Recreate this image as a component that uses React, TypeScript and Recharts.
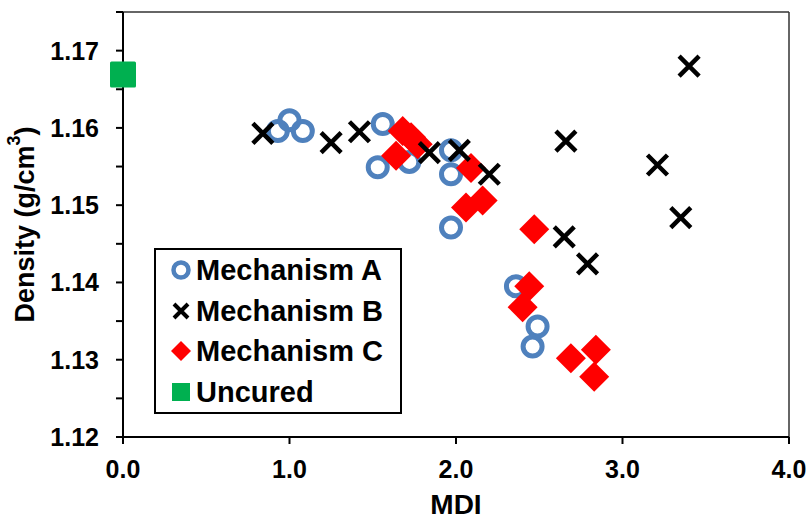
import {
  Legend,
  ReferenceLine,
  Scatter,
  ScatterChart,
  XAxis,
  YAxis
} from "recharts";

type Pt = { x: number; y: number };

const mechanismA: Pt[] = [
  { x: 0.93, y: 1.1596 },
  { x: 1.0, y: 1.161 },
  { x: 1.08, y: 1.1596 },
  { x: 1.56, y: 1.1605 },
  { x: 1.53, y: 1.1549 },
  { x: 1.72, y: 1.1556 },
  { x: 1.97, y: 1.1571 },
  { x: 1.97, y: 1.154 },
  { x: 1.97, y: 1.1471 },
  { x: 2.36, y: 1.1395 },
  { x: 2.49, y: 1.1343 },
  { x: 2.46, y: 1.1317 }
];

const mechanismB: Pt[] = [
  { x: 0.84, y: 1.1593 },
  { x: 1.25, y: 1.1581 },
  { x: 1.42, y: 1.1595 },
  { x: 1.84, y: 1.1568 },
  { x: 2.02, y: 1.1571 },
  { x: 2.2, y: 1.154 },
  { x: 2.66, y: 1.1583 },
  { x: 2.65, y: 1.1459 },
  { x: 2.79, y: 1.1424 },
  { x: 3.21, y: 1.1552 },
  { x: 3.35, y: 1.1484 },
  { x: 3.4, y: 1.168 }
];

const mechanismC: Pt[] = [
  { x: 1.68, y: 1.1596 },
  { x: 1.73, y: 1.1588 },
  { x: 1.77, y: 1.1579 },
  { x: 1.64, y: 1.1564 },
  { x: 2.09, y: 1.1548 },
  { x: 2.06, y: 1.1497 },
  { x: 2.16, y: 1.1506 },
  { x: 2.47, y: 1.1469 },
  { x: 2.44, y: 1.1395 },
  { x: 2.4, y: 1.1368 },
  { x: 2.69, y: 1.1302 },
  { x: 2.84, y: 1.1313 },
  { x: 2.83, y: 1.1278 }
];

const uncured: Pt[] = [{ x: 0, y: 1.1669 }];

const xTicks = [0, 1, 2, 3, 4];
const yTicks = [1.12, 1.125, 1.13, 1.135, 1.14, 1.145, 1.15, 1.155, 1.16, 1.165, 1.17, 1.175];

const BLUE = "#4F81BD";
const RED = "#FF0000";
const GREEN = "#00B050";
const FONT = "'Liberation Sans', Arial, sans-serif";

const ring = (p: any) => (
  <circle cx={p.cx} cy={p.cy} r={9.5} fill="none" stroke={BLUE} strokeWidth={5} />
);

const cross = (p: any) => {
  const s = 10;
  return (
    <path
      d={`M${p.cx - s},${p.cy - s}L${p.cx + s},${p.cy + s}M${p.cx - s},${p.cy + s}L${p.cx + s},${p.cy - s}`}
      stroke="#000"
      strokeWidth={4.5}
      fill="none"
    />
  );
};

const diamond = (p: any) => {
  const s = 15;
  return (
    <path
      d={`M${p.cx},${p.cy - s}L${p.cx + s},${p.cy}L${p.cx},${p.cy + s}L${p.cx - s},${p.cy}Z`}
      fill={RED}
    />
  );
};

const square = (p: any) => (
  <rect x={p.cx - 13} y={p.cy - 13} width={26} height={26} rx={1.5} fill={GREEN} />
);

const legendItems = [
  { name: "Mechanism A", kind: "ring" },
  { name: "Mechanism B", kind: "cross" },
  { name: "Mechanism C", kind: "diamond" },
  { name: "Uncured", kind: "square" }
];

function LegendIcon({ kind }: { kind: string }) {
  return (
    <svg width={24} height={24} style={{ flex: "none" }}>
      {kind === "ring" && <circle cx={12} cy={12} r={7.5} fill="none" stroke={BLUE} strokeWidth={4.5} />}
      {kind === "cross" && (
        <path d="M5,5L19,19M5,19L19,5" stroke="#000" strokeWidth={4} fill="none" />
      )}
      {kind === "diamond" && <path d="M12,2L22,12L12,22L2,12Z" fill={RED} />}
      {kind === "square" && <rect x={3} y={3} width={18} height={18} fill={GREEN} />}
    </svg>
  );
}

function LegendBox() {
  return (
    <div
      style={{
        border: "2px solid #000",
        background: "#fff",
        width: 248,
        boxSizing: "border-box",
        fontFamily: FONT,
        fontWeight: 700,
        fontSize: 29,
        color: "#000"
      }}
    >
      {legendItems.map((it) => (
        <div
          key={it.name}
          style={{ display: "flex", alignItems: "center", height: 40.5, paddingLeft: 13 }}
        >
          <LegendIcon kind={it.kind} />
          <span style={{ marginLeft: 3, lineHeight: "40px" }}>{it.name}</span>
        </div>
      ))}
    </div>
  );
}

function YTitle(props: any) {
  const vb = props.viewBox;
  const cx = vb.x + 25;
  const cy = vb.y + vb.height / 2;
  return (
    <text
      x={cx}
      y={cy}
      transform={`rotate(-90 ${cx} ${cy})`}
      textAnchor="middle"
      dominantBaseline="central"
      fontFamily={FONT}
      fontWeight={700}
      fontSize={27}
      fill="#000"
    >
      Density (g/cm
      <tspan fontSize={18} dy={-11}>
        3
      </tspan>
      <tspan dy={11}>)</tspan>
    </text>
  );
}

function XTitle(props: any) {
  const vb = props.viewBox;
  return (
    <text
      x={vb.x + vb.width / 2}
      y={vb.y + 77}
      textAnchor="middle"
      fontFamily={FONT}
      fontWeight={700}
      fontSize={28}
      fill="#000"
    >
      MDI
    </text>
  );
}

const tickStyle = { fontSize: 25, fontWeight: 700, fill: "#000", fontFamily: FONT };
const lineStyle = { stroke: "#000", strokeWidth: 2 };

export default function App() {
  return (
    <div style={{ position: "absolute", left: 0, top: 0, background: "#fff" }}>
      <ScatterChart
        width={809}
        height={521}
        margin={{ top: 12, right: 20, bottom: 0, left: 0 }}
        style={{ fontFamily: FONT }}
      >
        <XAxis
          xAxisId="main"
          type="number"
          dataKey="x"
          domain={[0, 4]}
          ticks={xTicks}
          tickFormatter={(v) => Number(v).toFixed(1)}
          height={84}
          tick={tickStyle}
          tickSize={7}
          tickMargin={16}
          axisLine={lineStyle}
          tickLine={lineStyle}
          label={<XTitle />}
        />
        <XAxis
          xAxisId="inner"
          type="number"
          dataKey="x"
          domain={[0, 4]}
          ticks={xTicks}
          mirror
          tick={false}
          axisLine={false}
          tickSize={7}
          tickLine={lineStyle}
        />
        <YAxis
          yAxisId="main"
          type="number"
          dataKey="y"
          domain={[1.12, 1.175]}
          ticks={yTicks}
          interval={0}
          tickFormatter={(v) => (Math.round(Number(v) * 1000) % 10 === 0 ? Number(v).toFixed(2) : "")}
          width={123}
          tick={tickStyle}
          tickSize={7}
          tickMargin={17}
          axisLine={lineStyle}
          tickLine={lineStyle}
          label={<YTitle />}
        />
        <YAxis
          yAxisId="inner"
          type="number"
          dataKey="y"
          domain={[1.12, 1.175]}
          ticks={yTicks}
          interval={0}
          mirror
          tick={false}
          axisLine={false}
          tickSize={7}
          tickLine={lineStyle}
        />
        <ReferenceLine xAxisId="main" yAxisId="main" y={1.175} stroke="#333" strokeWidth={1.5} />
        <ReferenceLine xAxisId="main" yAxisId="main" x={4} stroke="#333" strokeWidth={1.5} />
        <Legend
          layout="vertical"
          align="center"
          verticalAlign="middle"
          content={() => <LegendBox />}
          wrapperStyle={{ left: 154, top: 248, width: 248 }}
        />
        <Scatter
          name="Mechanism A"
          data={mechanismA}
          xAxisId="main"
          yAxisId="main"
          shape={ring}
          isAnimationActive={false}
        />
        <Scatter
          name="Mechanism C"
          data={mechanismC}
          xAxisId="main"
          yAxisId="main"
          shape={diamond}
          isAnimationActive={false}
        />
        <Scatter
          name="Mechanism B"
          data={mechanismB}
          xAxisId="main"
          yAxisId="main"
          shape={cross}
          isAnimationActive={false}
        />
        <Scatter
          name="Uncured"
          data={uncured}
          xAxisId="main"
          yAxisId="main"
          shape={square}
          isAnimationActive={false}
        />
      </ScatterChart>
    </div>
  );
}
